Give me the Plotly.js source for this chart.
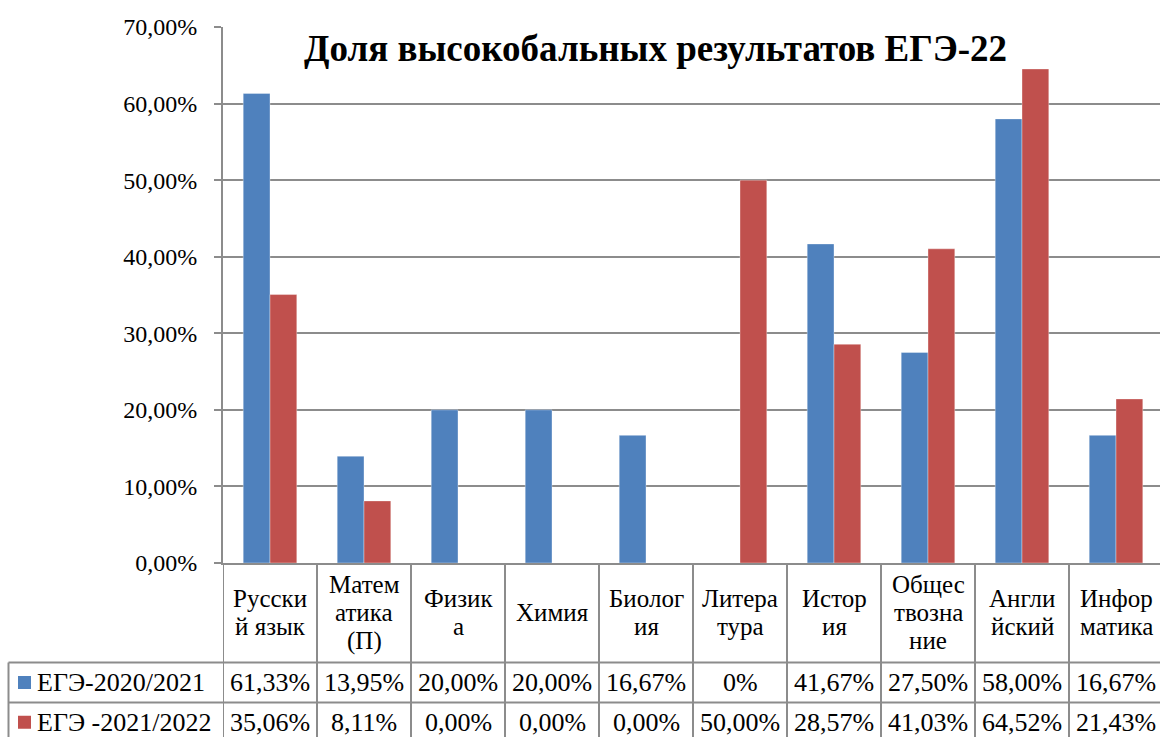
<!DOCTYPE html>
<html>
<head>
<meta charset="utf-8">
<script src="https://cdn.plot.ly/plotly-3.0.1.min.js"></script>
<style>
  html, body { margin: 0; padding: 0; background: #ffffff; overflow: hidden; }
  #chart { width: 1160px; height: 737px; }
</style>
</head>
<body>
<div id="chart"></div>
<script>
// ---- data ----
const categories = ['Русский язык', 'Математика (П)', 'Физика', 'Химия', 'Биология',
  'Литература', 'История', 'Обществознание', 'Английский', 'Информатика'];
const headerLabels = ['Русски<br>й язык', 'Матем<br>атика<br>(П)', 'Физик<br>а', 'Химия', 'Биолог<br>ия',
  'Литера<br>тура', 'Истор<br>ия', 'Общес<br>твозна<br>ние', 'Англи<br>йский', 'Инфор<br>матика'];
const seriesNames = ['ЕГЭ-2020/2021', 'ЕГЭ -2021/2022'];
const values2021 = [61.33, 13.95, 20.00, 20.00, 16.67, 0, 41.67, 27.50, 58.00, 16.67];
const values2022 = [35.06, 8.11, 0.00, 0.00, 0.00, 50.00, 28.57, 41.03, 64.52, 21.43];
const labels2021 = ['61,33%', '13,95%', '20,00%', '20,00%', '16,67%', '0%', '41,67%', '27,50%', '58,00%', '16,67%'];
const labels2022 = ['35,06%', '8,11%', '0,00%', '0,00%', '0,00%', '50,00%', '28,57%', '41,03%', '64,52%', '21,43%'];
const yTicks = [0, 10, 20, 30, 40, 50, 60, 70];
const yTickText = ['0,00%', '10,00%', '20,00%', '30,00%', '40,00%', '50,00%', '60,00%', '70,00%'];
const colors = ['#4F81BD', '#C0504D'];
const titleText = 'Доля высокобальных результатов ЕГЭ-22';

// ---- layout geometry (pixels) ----
const W = 1160, H = 737;
const plotL = 223, plotT = 27, plotB = 563;
const plotW = W - plotL, plotH = plotB - plotT;
const catW = 94;
const FONT = 'Liberation Serif, DejaVu Serif, serif';
const LINE = '#8c8c8c';

function px(x) { return (x - plotL) / plotW; }   // pixel -> paper x
function py(y) { return (plotB - y) / plotH; }   // pixel -> paper y

const traces = [
  { type: 'bar', name: seriesNames[0], x: categories, y: values2021,
    marker: { color: colors[0], line: { color: 'rgba(255,255,255,0.35)', width: 1 } }, hoverinfo: 'none' },
  { type: 'bar', name: seriesNames[1], x: categories, y: values2022,
    marker: { color: colors[1], line: { color: 'rgba(255,255,255,0.35)', width: 1 } }, hoverinfo: 'none' }
];

const shapes = [];
const annotations = [];

// table vertical lines at category boundaries
for (let i = 0; i <= categories.length; i++) {
  shapes.push({ type: 'line', xref: 'x', yref: 'paper', x0: i - 0.5, x1: i - 0.5,
    y0: py(plotB), y1: py(H + 10), line: { color: LINE, width: 2 } });
}
// row lines
const row1Top = 662.5, row2Top = 702.5, rowBottom = 742;
[row1Top, row2Top].forEach(function (yy) {
  shapes.push({ type: 'line', xref: 'paper', yref: 'paper', x0: px(8.5), x1: px(W + 10),
    y0: py(yy), y1: py(yy), line: { color: LINE, width: 2 } });
});
shapes.push({ type: 'line', xref: 'paper', yref: 'paper', x0: px(8.5), x1: px(8.5),
  y0: py(row1Top), y1: py(H + 10), line: { color: LINE, width: 2 } });

// header labels, one annotation per line for tighter line spacing
const headerMid = (plotB + row1Top) / 2;
const lineGap = 28;
headerLabels.forEach(function (t, i) {
  const lines = t.split('<br>');
  lines.forEach(function (ln, k) {
    const yy = headerMid + (k - (lines.length - 1) / 2) * lineGap;
    annotations.push({ xref: 'x', yref: 'paper', x: i, y: py(yy),
      text: ln, showarrow: false, xanchor: 'center', yanchor: 'middle', align: 'center',
      font: { family: FONT, size: 25, color: '#000' } });
  });
});
// value rows
const rowsCenters = [(row1Top + row2Top) / 2, (row2Top + rowBottom) / 2];
[labels2021, labels2022].forEach(function (arr, r) {
  arr.forEach(function (t, i) {
    annotations.push({ xref: 'x', yref: 'paper', x: i, y: py(rowsCenters[r]),
      text: t, showarrow: false, xanchor: 'center', yanchor: 'middle',
      font: { family: FONT, size: 26, color: '#000' } });
  });
  // legend key
  shapes.push({ type: 'rect', xref: 'paper', yref: 'paper',
    x0: px(18), x1: px(31), y0: py(rowsCenters[r] - 6.5), y1: py(rowsCenters[r] + 6.5),
    fillcolor: colors[r], line: { width: 0 } });
  annotations.push({ xref: 'paper', yref: 'paper', x: px(35), y: py(rowsCenters[r]),
    text: seriesNames[r], showarrow: false, xanchor: 'left', yanchor: 'middle',
    font: { family: FONT, size: 26, color: '#000' } });
});

// title
annotations.push({ xref: 'paper', yref: 'paper', x: px(655), y: py(48),
  text: '<b>' + titleText + '</b>', showarrow: false, xanchor: 'center', yanchor: 'middle',
  font: { family: FONT, size: 37, color: '#000' } });

const layout = {
  width: W, height: H,
  margin: { l: plotL, r: 0, t: plotT, b: H - plotB, pad: 0 },
  paper_bgcolor: '#ffffff', plot_bgcolor: '#ffffff',
  showlegend: false,
  barmode: 'group', bargap: 0.43, bargroupgap: 0,
  xaxis: {
    type: 'category', range: [-0.5, -0.5 + plotW / catW],
    showticklabels: false, ticks: '', showgrid: false, zeroline: false,
    showline: true, linecolor: LINE, linewidth: 2, fixedrange: true
  },
  yaxis: {
    range: [0, 70], tickvals: yTicks, ticktext: yTickText,
    tickfont: { family: FONT, size: 24, color: '#000' },
    ticks: 'outside', ticklen: 7, tickcolor: LINE, tickwidth: 2,
    ticklabelstandoff: 12,
    showgrid: true, gridcolor: LINE, gridwidth: 2,
    zeroline: false, showline: true, linecolor: LINE, linewidth: 2, fixedrange: true
  },
  shapes: shapes,
  annotations: annotations
};

Plotly.newPlot('chart', traces, layout, { displayModeBar: false, staticPlot: true });
</script>
</body>
</html>
